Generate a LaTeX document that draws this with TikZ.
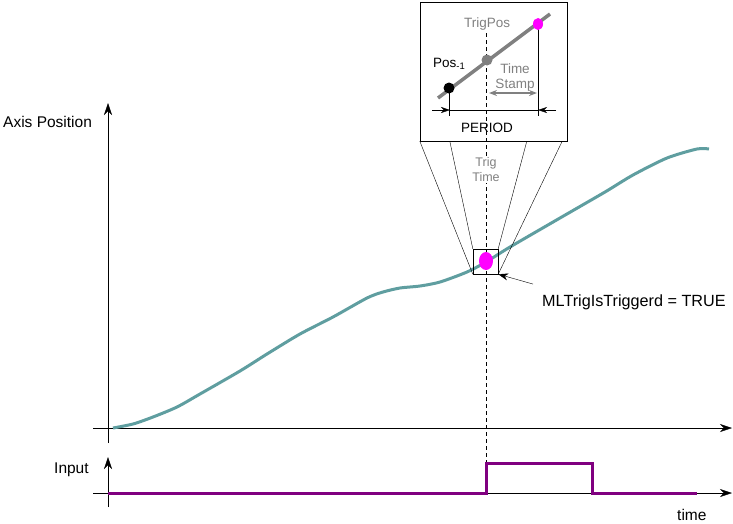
\documentclass[tikz,border=0pt]{standalone}
\usepackage{fontspec}
\setmainfont{Liberation Sans}
\usetikzlibrary{arrows.meta, positioning, calc}
\definecolor{trace}{RGB}{95, 158, 160}
\definecolor{pulse}{RGB}{128, 0, 128}
\definecolor{marker}{RGB}{255, 0, 255}
\definecolor{hint}{RGB}{128, 128, 128}

\begin{document}
\begin{tikzpicture}[x=1pt, y=-1pt,
    axis/.style={-{Stealth[length=12pt, width=8pt]}},
    biglbl/.style={font=\fontsize{15.5}{17}\selectfont, inner sep=0pt},
    smalllbl/.style={font=\fontsize{13.5}{15}\selectfont, inner sep=0pt}]
    \useasboundingbox (0,0) rectangle (733,523);

    % Axes
    \coordinate (posbot) at (108,443);
    \coordinate (postop) at (108,103);
    \coordinate (posleft) at (93,428);
    \coordinate (posright) at (732,428);
    \draw[axis] (posbot) -- (postop);
    \draw[axis] (posleft) -- (posright);

    \coordinate (inbot) at (108,507);
    \coordinate (intop) at (108,457);
    \coordinate (inleft) at (93,493);
    \coordinate (inright) at (732,493);
    \draw[axis] (inbot) -- (intop);
    \draw[axis] (inleft) -- (inright);

    \node[biglbl, anchor=base west] (axislbl) at (3,127) {Axis Position};
    \node[biglbl, anchor=base west] (inputlbl) at (54,473) {Input};
    \node[biglbl, anchor=base west] (timelbl) at (677,520) {time};

    % Trigger time
    \draw[dash pattern=on 4pt off 3pt] (486,33) -- (486,463);
    \node[font=\fontsize{12.5}{15}\selectfont, text=hint, fill=white, inner sep=1pt, align=center] (trigtime) at (486,170) {Trig\\Time};

    % Position and input
    \draw[trace, line width=3pt] plot[smooth, tension=0.45] coordinates {(113,428) (133,424) (153,417) (177,407) (200,394) (240,371) (267,354) (300,334) (333,317) (367,298) (383,292) (400,288) (420,286) (440,282) (467,272) (486,262) (510,247) (560,218) (605,192) (633,175) (667,158) (697,149) (709,149)};
    \draw[pulse, line width=3pt] (108,493) -- (486,493) -- (486,463) -- (592,463) -- (592,493) -- (697,493);

    % Zoom
    \node[draw, inner sep=0pt, minimum width=147pt, minimum height=139pt] (inset) at (493.5,71.5) {};
    \node[draw, inner sep=0pt, minimum size=25pt] (zoombox) at (485.5,261.5) {};
    \fill[marker] (486,261) ellipse [x radius=7, y radius=9];
    \draw (inset.south west) -- (zoombox.south west);
    \draw ($(inset.south west)+(30,0)$) -- (zoombox.north west);
    \draw ($(inset.south west)+(107,0)$) -- (zoombox.north east);
    \draw ($(inset.south east)+(-5,0)$) -- (zoombox.south east);

    \node[font=\fontsize{16.2}{18}\selectfont, inner sep=0pt, anchor=base west] (trigged) at (542,306) {MLTrigIsTriggerd = TRUE};
    \draw[-{Stealth[length=10pt, width=7pt]}] ($(trigged.north west)+(-9,-10)$) -- (zoombox.south east);

    % Inset
    \draw[hint, line width=3.5pt] (438,98) -- (550,14);
    \draw (449,88) -- (449,116);
    \draw (538,24) -- (538,116);
    \fill (449,88) circle (5.5);
    \fill[hint] (487,60) circle (5.5);
    \fill[marker] (538,24) ellipse [x radius=5, y radius=6];

    \draw (450,110) -- (538,110);
    \draw[-{Stealth[length=9pt, width=6pt]}] (432,110) -- (450,110);
    \draw[-{Stealth[length=9pt, width=6pt]}] (556,110) -- (538,110);
    \draw[hint, line width=1.5pt, {Stealth[length=8pt, width=6pt]}-{Stealth[length=8pt, width=6pt]}] (489,93) -- (537,93);

    \node[smalllbl, text=hint, anchor=base west] (trigpos) at (464,27) {TrigPos};
    \node[smalllbl, anchor=base west] (pos) at (433,67) {Pos\textsubscript{-1}};
    \node[smalllbl, text=hint, align=center] (stamp) at (515,78) {Time\\Stamp};
    \node[smalllbl, anchor=base] (period) at (487,132) {PERIOD};
\end{tikzpicture}
\end{document}
